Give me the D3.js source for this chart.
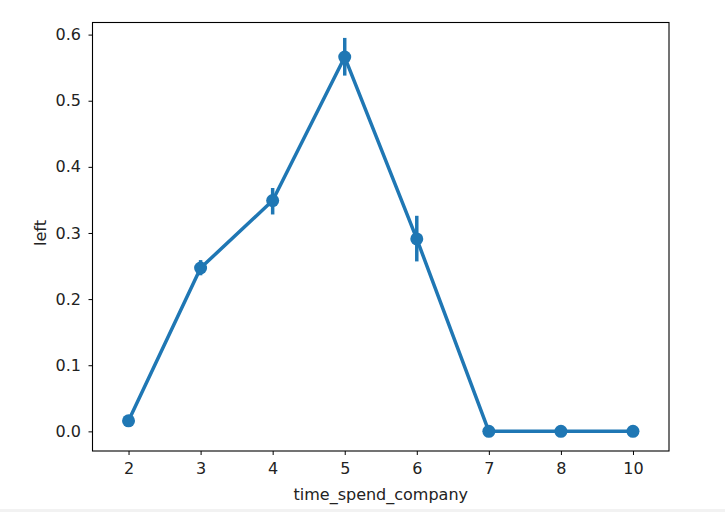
<!DOCTYPE html>
<html>
<head>
<meta charset="utf-8">
<script src="https://cdn.jsdelivr.net/npm/d3@7"></script>
<style>
  body { margin: 0; background: #fff; }
  svg { display: block; font-family: "DejaVu Sans", sans-serif; }
</style>
</head>
<body>
<div id="chart-area"></div>
<script>
// data
var categories = ["2", "3", "4", "5", "6", "7", "8", "10"];
var means = [0.016, 0.247, 0.349, 0.566, 0.291, 0.0, 0.0, 0.0];
var ciLow = [0.011, 0.236, 0.328, 0.538, 0.257, 0.0, 0.0, 0.0];
var ciHigh = [0.022, 0.259, 0.368, 0.595, 0.326, 0.0, 0.0, 0.0];
var yTicks = [0.0, 0.1, 0.2, 0.3, 0.4, 0.5, 0.6];

var W = 725, H = 512;
var margin = {top: 22.5, right: 56, bottom: 61, left: 92.5},
    width = W - margin.left - margin.right,
    height = H - margin.top - margin.bottom;

var blue = "#1f77b4";

var svg = d3.select("#chart-area")
  .append("svg")
    .attr("width", W)
    .attr("height", H);

// thin grey strip at the very bottom of the screenshot
svg.append("rect")
  .attr("x", 0).attr("y", H - 3)
  .attr("width", W).attr("height", 3)
  .attr("fill", "#f2f2f2");

var g = svg.append("g")
  .attr("transform", "translate(" + margin.left + "," + margin.top + ")");

var data = categories.map(function(c, i) {
  return {cat: c, mean: means[i], lo: ciLow[i], hi: ciHigh[i]};
});

// x: categorical points, padded half a step on each side
var x = d3.scalePoint()
  .domain(categories)
  .range([0, width])
  .padding(0.5);

var y = d3.scaleLinear()
  .domain([-0.0297, 0.6183])
  .range([height, 0]);

var xAxis = g.append("g")
  .attr("transform", "translate(0," + height + ")")
  .call(d3.axisBottom(x).tickSize(4).tickPadding(8));

var yAxis = g.append("g")
  .call(d3.axisLeft(y).tickValues(yTicks).tickFormat(d3.format(".1f")).tickSize(4).tickPadding(7.5));

[xAxis, yAxis].forEach(function(a) {
  a.attr("font-size", null).attr("font-family", null);
  a.select(".domain").remove();
  a.selectAll("line").attr("stroke", "#000").attr("stroke-width", 1);
  a.selectAll("text").style("font-size", "16px").attr("fill", "#222");
});

// frame
g.append("rect")
  .attr("x", 0).attr("y", 0)
  .attr("width", width).attr("height", height)
  .attr("fill", "none")
  .attr("stroke", "#000")
  .attr("stroke-width", 1.1);

// axis labels
g.append("text")
  .attr("x", width / 2)
  .attr("y", height + 49)
  .attr("text-anchor", "middle")
  .style("font-size", "16px")
  .attr("fill", "#222")
  .text("time_spend_company");

g.append("text")
  .attr("transform", "rotate(-90)")
  .attr("x", -(y(0.3)))
  .attr("y", -47)
  .attr("text-anchor", "middle")
  .style("font-size", "16px")
  .attr("fill", "#222")
  .text("left");

// error bars
g.append("g")
  .selectAll("line")
  .data(data)
  .enter()
  .append("line")
    .attr("x1", function(d) { return x(d.cat); })
    .attr("x2", function(d) { return x(d.cat); })
    .attr("y1", function(d) { return y(d.lo); })
    .attr("y2", function(d) { return y(d.hi); })
    .attr("stroke", blue)
    .attr("stroke-width", 3.5);

// connecting line
var line = d3.line()
  .x(function(d) { return x(d.cat); })
  .y(function(d) { return y(d.mean); });

g.append("path")
  .datum(data)
  .attr("d", line)
  .attr("fill", "none")
  .attr("stroke", blue)
  .attr("stroke-width", 3.5)
  .attr("stroke-linejoin", "round");

// points
g.append("g")
  .selectAll("circle")
  .data(data)
  .enter()
  .append("circle")
    .attr("cx", function(d) { return x(d.cat); })
    .attr("cy", function(d) { return y(d.mean); })
    .attr("r", 6.5)
    .attr("fill", blue);
</script>
</body>
</html>
